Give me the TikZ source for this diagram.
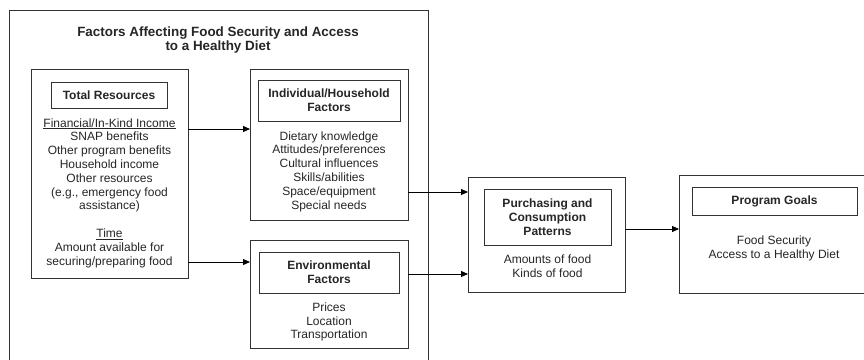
\documentclass[tikz,border=0pt]{standalone}
\usepackage{fontspec}
\setmainfont{Liberation Sans}
\usetikzlibrary{arrows.meta}
\begin{document}
\begin{tikzpicture}[x=1pt,y=-1pt,
  box/.style={draw=black!80, line width=0.9pt, inner sep=0pt, outer sep=0pt},
  body/.style={align=center, inner sep=0pt, font=\fontsize{12}{13.8}\selectfont, text=black!85},
  head/.style={align=center, inner sep=0pt, font=\fontsize{12}{14}\selectfont\bfseries, text=black!85},
  arr/.style={line width=0.9pt, -{Triangle[length=7pt,width=6pt]}}]
\useasboundingbox (0,0) rectangle (864,359);
\fill[white] (0,0) rectangle (864,359);
\clip (0,0) rectangle (864,359);
% outer group
\node[box, minimum width=419, minimum height=360] (outer) at (218.5,190) {};
\node[align=center, inner sep=0pt, font=\fontsize{13.4}{14}\selectfont\bfseries, text=black!85] (title) at (218,40) {Factors Affecting Food Security and Access\\to a Healthy Diet};
% total resources
\node[box, minimum width=157, minimum height=209] (tr) at (109.5,173.5) {};
\node[box, minimum width=116, minimum height=26] (trt) at (109,95) {};
\node[head] (trtx) at (trt.center) {Total Resources};
\node[body] (trb) at (109.5,193) {\underline{Financial/In-Kind Income}\\SNAP benefits\\Other program benefits\\Household income\\Other resources\\(e.g., emergency food\\assistance)\\[13.8pt]\underline{Time}\\Amount available for\\securing/preparing food};
% individual / household
\node[box, minimum width=158, minimum height=151] (ih) at (329,144.5) {};
\node[box, minimum width=142, minimum height=41] (iht) at (329,100.5) {};
\node[head] (ihtx) at (iht.center) {Individual/Household\\Factors};
\node[body] (ihb) at (329,171.5) {Dietary knowledge\\Attitudes/preferences\\Cultural influences\\Skills/abilities\\Space/equipment\\Special needs};
% environmental
\node[box, minimum width=158, minimum height=108] (ef) at (329,294) {};
\node[box, minimum width=140, minimum height=41] (eft) at (329,272.5) {};
\node[head] (eftx) at (eft.center) {Environmental\\Factors};
\node[body] (efb) at (329,322) {Prices\\Location\\Transportation};
% purchasing
\node[box, minimum width=157, minimum height=115] (pc) at (546.5,234.5) {};
\node[box, minimum width=127, minimum height=56] (pct) at (547.5,217) {};
\node[head] (pctx) at (pct.center) {Purchasing and\\Consumption\\Patterns};
\node[body] (pcb) at (547.5,266) {Amounts of food\\Kinds of food};
% program goals
\node[box, minimum width=210, minimum height=118] (pg) at (784,234) {};
\node[box, minimum width=165, minimum height=28] (pgt) at (774.5,201) {};
\node[head] (pgtx) at (pgt.center) {Program Goals};
\node[body] (pgb) at (774,248) {Food Security\\Access to a Healthy Diet};
% connectors
\draw[arr] (tr.east |- 0,129) -- (ih.west |- 0,129);
\draw[arr] (tr.east |- 0,262) -- (ef.west |- 0,262);
\draw[arr] (ih.east |- 0,192) -- (pc.west |- 0,192);
\draw[arr] (ef.east |- 0,274) -- (pc.west |- 0,274);
\draw[arr] (pc.east |- 0,229) -- (pg.west |- 0,229);
\end{tikzpicture}
\end{document}
